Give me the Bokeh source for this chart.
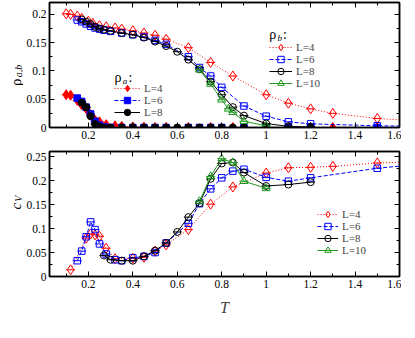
import numpy as np
from bokeh.plotting import figure
from bokeh.layouts import column, row
from bokeh.models import (Range1d, LinearAxis, SingleIntervalTicker, NumeralTickFormatter,
                          CustomJSTickFormatter, Legend, LegendItem, Label)
from bokeh.embed import file_html
from bokeh.resources import INLINE

# ---------------- data ----------------
# order parameters rho_a (filled) and rho_b (open) vs T
T_L4 = [0.10, 0.12, 0.15, 0.17, 0.20, 0.22, 0.25, 0.28, 0.32, 0.35, 0.40, 0.45, 0.50, 0.55,
        0.65, 0.75, 0.85, 1.00, 1.10, 1.20, 1.30, 1.50, 2.00]
rhob_L4 = [0.201, 0.200, 0.197, 0.193, 0.188, 0.184, 0.180, 0.178, 0.176, 0.174, 0.171, 0.167,
           0.163, 0.156, 0.141, 0.115, 0.091, 0.058, 0.043, 0.033, 0.025, 0.016, 0.004]
rhoa_L4 = [0.058, 0.057, 0.048, 0.040, 0.028, 0.018, 0.010, 0.005, 0.003, 0.002, 0.001, 0.0005,
           0, 0, 0, 0, 0, 0, 0, 0, 0, 0, 0]

T_L6 = [0.15, 0.17, 0.19, 0.21, 0.23, 0.25, 0.27, 0.30, 0.35, 0.40, 0.45, 0.50, 0.55, 0.65,
        0.70, 0.75, 0.80, 0.90, 1.00, 1.10, 1.20, 1.50, 2.00]
rhob_L6 = [0.190, 0.187, 0.183, 0.179, 0.176, 0.174, 0.172, 0.170, 0.167, 0.164, 0.160, 0.154,
           0.147, 0.125, 0.106, 0.091, 0.071, 0.038, 0.020, 0.010, 0.0065, 0.003, 0.001]
rhoa_L6 = [0.052, 0.046, 0.036, 0.024, 0.011, 0.004, 0.001, 0, 0, 0, 0, 0, 0, 0,
           0, 0, 0, 0, 0, 0, 0, 0, 0]

T_L8 = [0.17, 0.19, 0.21, 0.23, 0.25, 0.27, 0.30, 0.35, 0.40, 0.45, 0.50, 0.55, 0.60, 0.65,
        0.70, 0.75, 0.80, 0.85, 0.90, 1.00, 1.10, 1.20]
rhob_L8 = [0.191, 0.187, 0.183, 0.178, 0.175, 0.173, 0.171, 0.167, 0.164, 0.159, 0.152, 0.144,
           0.134, 0.120, 0.103, 0.081, 0.058, 0.036, 0.021, 0.007, 0.002, 0.001]
rhoa_L8 = [0.044, 0.036, 0.020, 0.006, 0.002, 0, 0, 0, 0, 0, 0, 0, 0, 0,
           0, 0, 0, 0, 0, 0, 0, 0]

T_L10 = [0.70, 0.75, 0.80, 0.83, 0.85, 0.90, 1.00]
rhob_L10 = [0.102, 0.077, 0.049, 0.033, 0.027, 0.011, 0.003]

# specific heat c_V vs T
Tc_L4 = [0.12, 0.19, 0.21, 0.23, 0.25, 0.28, 0.32, 0.40, 0.45, 0.50, 0.55, 0.65, 0.75, 0.85,
         1.00, 1.10, 1.20, 1.30, 1.50, 2.00]
cv_L4 = [0.014, 0.080, 0.089, 0.087, 0.084, 0.059, 0.037, 0.038, 0.040, 0.053, 0.066, 0.098,
         0.151, 0.187, 0.216, 0.227, 0.228, 0.230, 0.237, 0.245]

Tc_L6 = [0.15, 0.17, 0.19, 0.21, 0.23, 0.25, 0.28, 0.32, 0.35, 0.40, 0.45, 0.50, 0.55, 0.65,
         0.70, 0.75, 0.80, 0.85, 0.90, 1.00, 1.10, 1.20, 1.50, 2.00]
cv_L6 = [0.033, 0.053, 0.083, 0.114, 0.098, 0.068, 0.047, 0.035, 0.033, 0.039, 0.042, 0.050,
         0.070, 0.111, 0.152, 0.183, 0.206, 0.220, 0.224, 0.207, 0.199, 0.206, 0.226, 0.248]

Tc_L8 = [0.27, 0.30, 0.35, 0.40, 0.45, 0.50, 0.55, 0.60, 0.65, 0.70, 0.75, 0.80, 0.85, 0.90,
         1.00, 1.10, 1.20]
cv_L8 = [0.044, 0.035, 0.033, 0.033, 0.042, 0.054, 0.070, 0.093, 0.124, 0.153, 0.204, 0.236,
         0.238, 0.217, 0.189, 0.192, 0.197]

Tc_L10 = [0.70, 0.75, 0.80, 0.85, 0.90, 1.00]
cv_L10 = [0.157, 0.209, 0.246, 0.238, 0.199, 0.184]

LEG_LABELS = ["L=4", "L=6", "L=8", "L=10"]

# ---------------- style ----------------
SERIF = "Liberation Serif"
RED, BLUE, BLACK, GREEN = "#ff0000", "#0000ff", "#000000", "#1f9a1f"
STY = {
    4: dict(color=RED, dash="1 2", marker="diamond", size=10),
    6: dict(color=BLUE, dash="4 2", marker="square", size=6.5),
    8: dict(color=BLACK, dash="solid", marker="circle", size=7),
    10: dict(color=GREEN, dash="solid", marker="triangle", size=8),
}
LABW = 23            # width of the strip holding the y-axis titles
FW, FH = 350, 125    # frame size of both panels
X0, X1 = 0.025, 1.6
B1, B2 = 22, 44      # bottom borders
YMAX1, YMAX2 = 0.221, 0.261


def style_axis(ax, show_labels=True):
    ax.axis_label = None
    ax.axis_line_color = "black"
    ax.axis_line_width = 1.5
    ax.major_tick_in = 5
    ax.major_tick_out = 0
    ax.minor_tick_in = 3
    ax.minor_tick_out = 0
    ax.major_tick_line_color = "black"
    ax.minor_tick_line_color = "black"
    ax.major_label_text_font = SERIF
    ax.major_label_text_font_size = "11.5px"
    ax.major_label_text_color = "black"
    ax.major_label_standoff = 3
    if show_labels:
        ax.formatter = NumeralTickFormatter(format="0.[00]")
    else:
        ax.formatter = CustomJSTickFormatter(code="return ''")
        ax.major_label_standoff = 0


def make_fig(ymax, bottom):
    p = figure(frame_width=FW, frame_height=FH, x_range=Range1d(X0, X1),
               y_range=Range1d(0, ymax), output_backend="svg", toolbar_location=None,
               min_border_left=20, min_border_right=2, min_border_top=2,
               min_border_bottom=bottom)
    p.xgrid.visible = False
    p.ygrid.visible = False
    p.outline_line_color = "black"
    p.outline_line_width = 1.5
    p.background_fill_color = "white"
    p.border_fill_color = "white"
    p.xaxis.ticker = SingleIntervalTicker(interval=0.2, num_minor_ticks=2)
    p.yaxis.ticker = SingleIntervalTicker(interval=0.05, num_minor_ticks=2)
    for ax in p.xaxis + p.yaxis:
        style_axis(ax, True)
    top = LinearAxis(ticker=SingleIntervalTicker(interval=0.2, num_minor_ticks=2))
    right = LinearAxis(ticker=SingleIntervalTicker(interval=0.05, num_minor_ticks=2))
    style_axis(top, False)
    style_axis(right, False)
    p.add_layout(top, "above")
    p.add_layout(right, "right")
    return p


def make_strip(ymax, bottom):
    s = figure(frame_width=LABW, frame_height=FH, x_range=Range1d(0, 1),
               y_range=Range1d(0, ymax), output_backend="svg", toolbar_location=None,
               x_axis_type=None, y_axis_type=None,
               min_border_left=0, min_border_right=0, min_border_top=2,
               min_border_bottom=bottom)
    s.xgrid.visible = False
    s.ygrid.visible = False
    s.outline_line_color = None
    s.background_fill_color = "white"
    s.border_fill_color = "white"
    return s


def series(p, T, vals, L, filled):
    s = STY[L]
    ln = p.line(T, vals, line_color=s["color"], line_width=1, line_dash=s["dash"])
    p.scatter(T, vals, marker="dash", size=9, line_color=s["color"], line_width=1)
    sc = p.scatter(T, vals, marker=s["marker"], size=s["size"],
                   line_color=s["color"], line_width=1,
                   fill_color=s["color"] if filled else None)
    return [ln, sc]


def add_legend_rows(p, rends, x_T, row_centers_px, gw):
    x_px = int(round((x_T - X0) / (X1 - X0) * FW))
    for i, (r, c) in enumerate(zip(rends, row_centers_px)):
        p.add_layout(Legend(items=[LegendItem(label=LEG_LABELS[i], renderers=r)],
                            location=(x_px, int(round(c - 8))), glyph_width=gw,
                            glyph_height=16, label_height=12, spacing=0, padding=0,
                            margin=0, label_standoff=4, background_fill_alpha=0,
                            border_line_color=None, label_text_font=SERIF,
                            label_text_font_size="11px"))


def text(p, x, y, s, size, italic=False, angle=0.0, x_units="data"):
    p.add_layout(Label(x=x, y=y, x_units=x_units, text=s, text_font=SERIF,
                       text_font_size=size,
                       text_font_style="italic" if italic else "normal",
                       text_baseline="alphabetic", text_align="left",
                       angle=angle, text_color="black"))


# ---------------- top panel ----------------
p1 = make_fig(YMAX1, B1)
ra = [series(p1, T_L4, rhoa_L4, 4, True),
      series(p1, T_L6, rhoa_L6, 6, True),
      series(p1, T_L8, rhoa_L8, 8, True)]
rb = [series(p1, T_L4, rhob_L4, 4, False),
      series(p1, T_L6, rhob_L6, 6, False),
      series(p1, T_L8, rhob_L8, 8, False),
      series(p1, T_L10, rhob_L10, 10, False)]

add_legend_rows(p1, ra, 0.318, [39, 27, 15], 26)
add_legend_rows(p1, rb, 1.014, [80.5, 68.5, 56.5, 44.5], 23)

# legend titles rho_a: / rho_b:
text(p1, 0.318, 0.088, "ρ", "14px")
text(p1, 0.355, 0.083, "a", "9px", italic=True)
text(p1, 0.380, 0.088, ":", "14px")
text(p1, 1.014, 0.164, "ρ", "14px")
text(p1, 1.051, 0.158, "b", "9px", italic=True)
text(p1, 1.076, 0.164, ":", "14px")

s1 = make_strip(YMAX1, B1)
text(s1, 15, 0.0735, "ρ", "15px", angle=np.pi / 2, x_units="screen")
text(s1, 18, 0.089, "a,b", "10px", italic=True, angle=np.pi / 2, x_units="screen")

# ---------------- bottom panel ----------------
p2 = make_fig(YMAX2, B2)
rc = [series(p2, Tc_L4, cv_L4, 4, False),
      series(p2, Tc_L6, cv_L6, 6, False),
      series(p2, Tc_L8, cv_L8, 8, False),
      series(p2, Tc_L10, cv_L10, 10, False)]
add_legend_rows(p2, rc, 1.232, [61.5, 49.5, 37.5, 25.5], 21)

xb = p2.below[0]
xb.axis_label = "T"
xb.axis_label_text_font = SERIF
xb.axis_label_text_font_style = "italic"
xb.axis_label_text_font_size = "16px"
xb.axis_label_standoff = 8

s2 = make_strip(YMAX2, B2)
text(s2, 15, 0.140, "c", "15px", italic=True, angle=np.pi / 2, x_units="screen")
text(s2, 18, 0.156, "V", "10px", italic=True, angle=np.pi / 2, x_units="screen")

layout = row(column(s1, s2), column(p1, p2))
open("out.html", "w").write(file_html(layout, INLINE))
